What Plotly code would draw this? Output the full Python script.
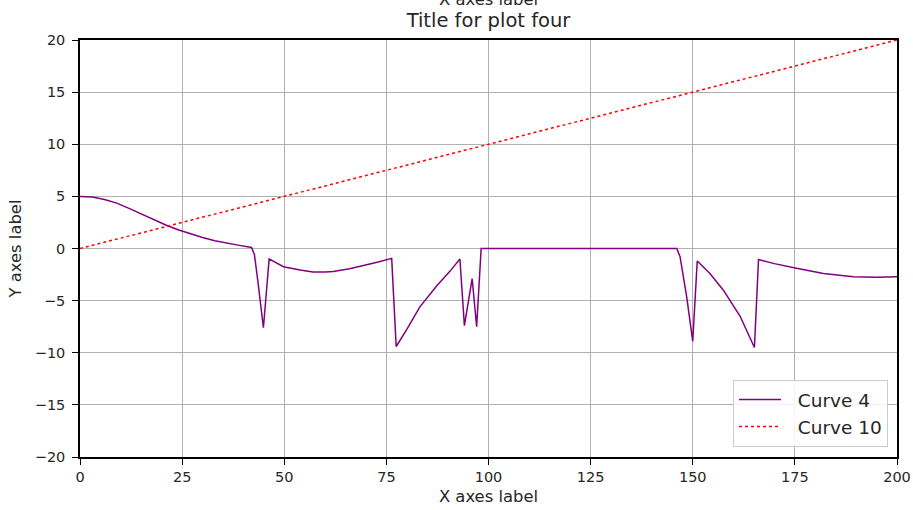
import plotly.graph_objects as go

# Curve 4
curve4_x = [0, 3, 6, 9, 12, 15, 18, 21, 24, 27, 30, 33, 36, 39, 42, 42.7, 43.5, 44.9,
            46.3, 49.8, 53.9, 57, 60, 62, 66, 70, 73, 76.3,
            77.4, 80, 83.2, 87.3, 90.6, 93.0,
            94.1, 96.0, 97.1, 98.2, 120, 146.1,
            146.9, 148.5, 150.0,
            151.1, 154.2, 157.5, 161.6, 165.1,
            166.1, 170, 175.4, 182, 189.3, 195, 200]
curve4_y = [5.0, 4.93, 4.7, 4.35, 3.85, 3.3, 2.75, 2.25, 1.8, 1.4, 1.05, 0.75, 0.5, 0.3, 0.1,
            -0.6, -3.0, -7.6,
            -1.0, -1.75, -2.07, -2.25, -2.25, -2.2, -1.95, -1.6, -1.3, -0.95,
            -9.4, -7.75, -5.6, -3.6, -2.17, -1.0,
            -7.4, -2.9, -7.5, 0.0, 0.0, 0.0,
            -0.8, -4.6, -8.9,
            -1.2, -2.4, -4.0, -6.5, -9.5,
            -1.06, -1.45, -1.9, -2.4, -2.7, -2.75, -2.7]

# Curve 10
curve10_x = [0, 200]
curve10_y = [0, 20]

x_ticks = [0, 25, 50, 75, 100, 125, 150, 175, 200]
y_ticks = [-20, -15, -10, -5, 0, 5, 10, 15, 20]
series_names = ["Curve 4", "Curve 10"]

FONT = "DejaVu Sans"
TXT = "#262626"
GAP = "\u00a0\u00a0"

fig = go.Figure()
fig.add_trace(go.Scatter(x=curve4_x, y=curve4_y, mode="lines", name=GAP + series_names[0],
                         line=dict(color="#800080", width=1.5)))
fig.add_trace(go.Scatter(x=curve10_x, y=curve10_y, mode="lines", name=GAP + series_names[1],
                         line=dict(color="#ff0000", width=1.5, dash="dot")))

axis_common = dict(showgrid=True, gridcolor="#b0b0b0", gridwidth=1.2,
                   showline=True, linecolor="black", linewidth=1.5, mirror=True,
                   ticks="outside", ticklen=6, tickcolor="black", tickwidth=1.2,
                   tickfont=dict(family=FONT, size=14.5, color=TXT),
                   zeroline=False, automargin=False)

fig.update_layout(
    width=913, height=510,
    margin=dict(l=80, r=16, t=40, b=53),
    paper_bgcolor="white", plot_bgcolor="white",
    font=dict(family=FONT, color=TXT),
    title=dict(text="Title for plot four", x=0.5, xref="paper", xanchor="center",
               y=1 - 20 / 510, yanchor="middle", font=dict(family=FONT, size=19.5, color=TXT)),
    xaxis=dict(range=[0, 200], tickvals=x_ticks, ticklabelstandoff=0,
               title=dict(text="X axes label", font=dict(family=FONT, size=16.4, color=TXT), standoff=6),
               **axis_common),
    yaxis=dict(range=[-20, 20], tickvals=y_ticks, ticklabelstandoff=4,
               title=dict(text="Y axes label", font=dict(family=FONT, size=16.4, color=TXT), standoff=9),
               **axis_common),
    legend=dict(x=0.989, y=0.024, xanchor="right", yanchor="bottom",
                bgcolor="rgba(255,255,255,0.85)", bordercolor="#cccccc", borderwidth=1,
                font=dict(family=FONT, size=18.5, color=TXT), tracegroupgap=2, itemwidth=42),
    showlegend=True,
    annotations=[dict(text="X axes label", xref="paper", yref="paper", x=0.5, y=1,
                      yanchor="middle", yshift=41, showarrow=False,
                      font=dict(family=FONT, size=16.4, color=TXT))],
)

fig.write_html("out.html", config={"displayModeBar": False},
               post_script="document.body.style.margin='0';")
